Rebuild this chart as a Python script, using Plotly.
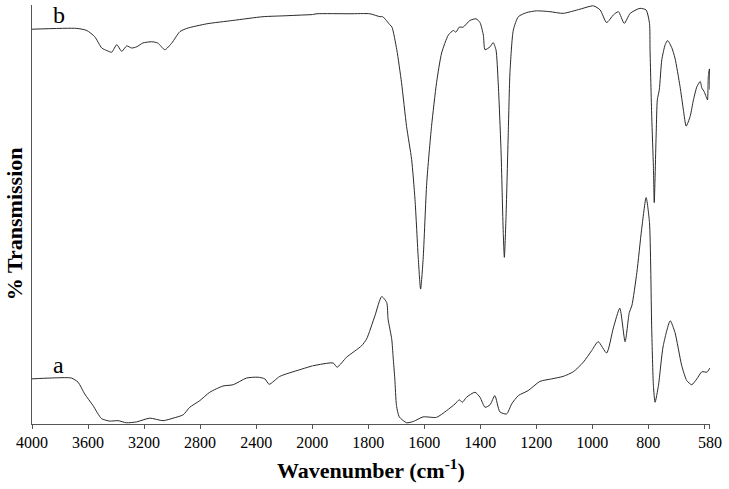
import plotly.graph_objects as go

# Spectrum b (upper trace): wavenumber (cm-1) and % transmission (arbitrary offset scale)
wn_b = [4000, 3681, 3609, 3552, 3502, 3466, 3431, 3395, 3359, 3324, 3288, 3252, 3209, 3145,
        3102, 3052, 3002, 2945, 2895, 2752, 2566, 2352, 2209, 2000, 1983, 1865, 1794, 1758,
        1748, 1722, 1715, 1698, 1681, 1663, 1645, 1633, 1621, 1613, 1604, 1591, 1574, 1556,
        1538, 1514, 1496, 1487, 1475, 1461, 1437, 1415, 1401, 1389, 1383, 1365, 1354, 1344,
        1336, 1326, 1318, 1314, 1308, 1300, 1294, 1282, 1264, 1234, 1199, 1151, 1104, 1044,
        996, 972, 949, 925, 907, 886, 865, 830, 808, 796, 794, 788, 782, 779, 772, 768, 761,
        752, 740, 731, 716, 705, 687, 675, 665, 651, 639, 627, 615, 609, 601, 594, 589, 586,
        582, 580]
t_b = [94.2, 94.4, 93.9, 92.4, 89.7, 89.1, 88.7, 90.5, 88.9, 90.2, 89.7, 90.0, 90.9, 91.2,
       90.9, 89.3, 90.9, 93.6, 94.4, 95.5, 96.3, 97.2, 97.4, 97.7, 97.9, 97.9, 97.9, 97.2,
       97.2, 95.2, 94.7, 89.3, 81.4, 70.9, 63.0, 53.5, 39.1, 32.0, 39.1, 57.5, 70.9, 81.4,
       88.5, 92.8, 93.9, 93.5, 94.7, 94.7, 96.3, 96.7, 95.8, 92.8, 89.3, 90.0, 91.0, 89.3,
       81.4, 65.4, 45.6, 39.6, 49.4, 69.5, 83.8, 94.0, 97.2, 98.2, 98.6, 98.4, 98.0, 99.0,
       99.8, 98.8, 95.8, 97.6, 98.4, 95.6, 98.0, 99.2, 98.8, 95.6, 89.3, 73.3, 61.3, 52.7,
       69.5, 77.3, 79.7, 86.9, 90.5, 91.5, 89.7, 87.3, 80.5, 74.9, 71.0, 73.3, 77.3, 80.4,
       81.7, 80.1, 79.3, 78.1, 77.3, 82.9, 84.7, 79.7]

# Spectrum a (lower trace)
wn_a = [4000, 3874, 3719, 3671, 3624, 3564, 3504, 3445, 3386, 3326, 3254, 3159, 3064, 2993,
        2921, 2874, 2802, 2731, 2636, 2564, 2469, 2386, 2338, 2307, 2231, 2088, 2000, 1925,
        1911, 1877, 1824, 1806, 1776, 1752, 1734, 1729, 1716, 1711, 1705, 1699, 1689, 1663,
        1639, 1604, 1556, 1520, 1490, 1475, 1464, 1449, 1419, 1401, 1383, 1365, 1348, 1330,
        1306, 1288, 1264, 1229, 1187, 1145, 1104, 1068, 1032, 1002, 979, 949, 925, 902, 883,
        868, 859, 841, 824, 808, 796, 788, 782, 776, 764, 747, 722, 705, 681, 663, 645, 627,
        609, 591, 587, 580]
t_a = [10.5, 10.7, 10.7, 9.7, 6.9, 4.1, 1.0, 0.4, 0.5, 0.0, 0.2, 1.1, 0.5, 1.1,
       1.9, 3.7, 5.3, 7.3, 8.8, 9.1, 10.7, 10.9, 10.5, 9.2, 11.1, 12.7, 13.6, 14.3,
       13.3, 15.7, 18.4, 20.0, 25.6, 30.2, 28.8, 24.8, 20.0, 15.7, 10.5, 4.1, 1.4, 0.0,
       0.3, 1.4, 1.3, 2.9, 4.5, 5.5, 4.9, 6.1, 7.3, 6.1, 3.7, 4.3, 6.5, 2.6,
       2.1, 4.5, 6.5, 7.7, 9.9, 10.5, 11.1, 12.2, 14.5, 17.3, 19.4, 16.7, 22.7, 27.4, 19.4,
       26.4, 28.0, 36.0, 46.3, 53.9, 47.9, 22.4, 8.9, 4.9, 8.9, 18.4, 24.4, 21.6, 13.7, 10.1,
       9.1, 10.5, 12.2, 12.1, 12.4, 13.1]

ticks_hi = [4000, 3600, 3200, 2800, 2400]
ticks_lo = [2000, 1800, 1600, 1400, 1200, 1000, 800, 600, 580]
ticktext_lo = ["2000", "1800", "1600", "1400", "1200", "1000", "800", "", "580"]

SPLIT = 2000  # scale change (400 -> 200 cm-1 per division)


def part(wn, t, hi):
    pts = [(w, v) for w, v in zip(wn, t) if (w >= SPLIT if hi else w <= SPLIT)]
    return [p[0] for p in pts], [p[1] for p in pts]


line = dict(color="#2a2a2a", width=1, shape="spline", smoothing=0.6)
fig = go.Figure()
for wn, t in ((wn_a, t_a), (wn_b, t_b)):
    x1, y1 = part(wn, t, True)
    x2, y2 = part(wn, t, False)
    fig.add_trace(go.Scatter(x=x1, y=y1, mode="lines", line=line, xaxis="x", yaxis="y",
                             showlegend=False, hoverinfo="skip"))
    fig.add_trace(go.Scatter(x=x2, y=y2, mode="lines", line=line, xaxis="x2", yaxis="y",
                             showlegend=False, hoverinfo="skip"))

W, H = 729, 489
ml, mr, mt, mb = 32, 19, 5, 65
d = 5 / 12.1  # 5 divisions of 400 vs 7.1 divisions of 200

font = dict(family="Liberation Serif, Times New Roman, serif", color="black")
xax = dict(showline=True, linecolor="#555", linewidth=1, ticks="outside", ticklen=4,
           tickcolor="#555", showgrid=False, zeroline=False,
           tickfont=dict(size=16, **font))
fig.update_layout(
    width=W, height=H, margin=dict(l=ml, r=mr, t=mt, b=mb, autoexpand=False),
    paper_bgcolor="white", plot_bgcolor="white",
    xaxis=dict(domain=[0, d], range=[4000, 2000], tickvals=ticks_hi, anchor="y", **xax),
    xaxis2=dict(domain=[d, 1], range=[2000, 580], tickvals=ticks_lo, ticktext=ticktext_lo,
                anchor="y", **xax),
    yaxis=dict(range=[-0.3, 100], showline=True, linecolor="#555", linewidth=1,
               showticklabels=False, ticks="", showgrid=False, zeroline=False),
    annotations=[
        dict(text="<b>Wavenumber (cm<sup>-1</sup>)</b>", xref="paper", yref="paper",
             x=0.5, y=0, yanchor="top", yshift=-29, showarrow=False,
             font=dict(size=22, **font)),
        dict(text="<b>% Transmission</b>", xref="paper", yref="paper", x=0, y=0.477,
             xanchor="center", xshift=-18, textangle=-90, showarrow=False,
             font=dict(size=22, **font)),
        dict(text="b", xref="paper", yref="paper", x=0.0276, y=0.976, yanchor="middle",
             showarrow=False, font=dict(size=24, **font)),
        dict(text="a", xref="paper", yref="paper", x=0.0276, y=0.141, yanchor="middle",
             showarrow=False, font=dict(size=24, **font)),
    ],
)
fig.write_html("out.html", config={"displayModeBar": False},
               post_script="document.body.style.margin='0';")
